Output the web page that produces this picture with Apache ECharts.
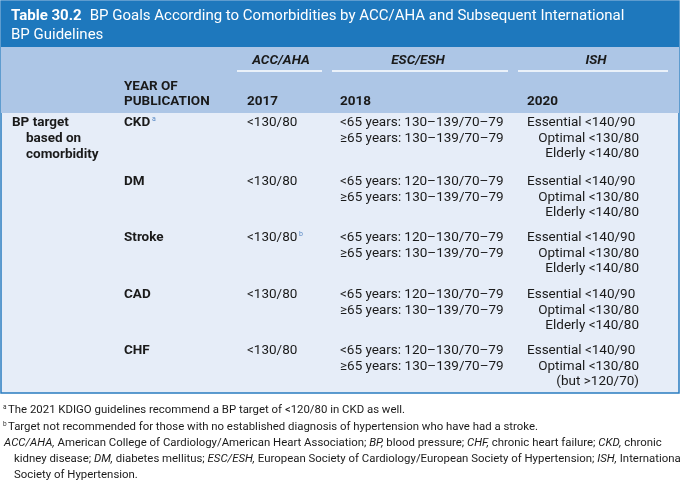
<!DOCTYPE html><html><head><meta charset="utf-8">
<script src="https://cdn.jsdelivr.net/npm/echarts@6/dist/echarts.min.js"></script>
<style>html,body{margin:0;padding:0;background:#fff}#c{width:680px;height:481px}</style></head><body><div id="c"></div>
<script>
const title = ["Table 30.2", " BP Goals According to Comorbidities by ACC/AHA and Subsequent International", "BP Guidelines"];
const guidelines = ["ACC/AHA", "ESC/ESH", "ISH"];
const years = ["2017", "2018", "2020"];
const comorbidities = ["CKD", "DM", "Stroke", "CAD", "CHF"];
const marks = ["a", "", "", "", ""];
const accAha = ["<130/80", "<130/80", "<130/80", "<130/80", "<130/80"];
const accMarks = ["", "", "b", "", ""];
const escEsh = [
  ["<65 years: 130–139/70–79", "≥65 years: 130–139/70–79"],
  ["<65 years: 120–130/70–79", "≥65 years: 130–139/70–79"],
  ["<65 years: 120–130/70–79", "≥65 years: 130–139/70–79"],
  ["<65 years: 120–130/70–79", "≥65 years: 130–139/70–79"],
  ["<65 years: 120–130/70–79", "≥65 years: 130–139/70–79"]];
const ish = [
  ["Essential <140/90", "Optimal <130/80", "Elderly <140/80"],
  ["Essential <140/90", "Optimal <130/80", "Elderly <140/80"],
  ["Essential <140/90", "Optimal <130/80", "Elderly <140/80"],
  ["Essential <140/90", "Optimal <130/80", "Elderly <140/80"],
  ["Essential <140/90", "Optimal <130/80", "(but >120/70)"]];
const footnotes = [
  "The 2021 KDIGO guidelines recommend a BP target of <120/80 in CKD as well.",
  "Target not recommended for those with no established diagnosis of hypertension who have had a stroke."];

const F = 'Roboto, "Liberation Sans", sans-serif';
const g = [];
function t(x, y, s, o = {}) {
  g.push({type: 'text', x, y, style: Object.assign({text: s, font: (o.b ? 'bold ' : '') + (o.i ? 'italic ' : '') + (o.fs || 13.5) + 'px ' + F, fill: o.c || '#1a1a1a', textAlign: o.a || 'left', textVerticalAlign: 'middle'}, o.st || {})});
}
function r(x, y, w, h, fill, stroke) { g.push({type: 'rect', shape: {x, y, width: w, height: h}, style: {fill, stroke: stroke || null, lineWidth: 1.5}}); }
function l(x1, x2, y) { g.push({type: 'line', shape: {x1, y1: y, x2, y2: y}, style: {stroke: '#fff', lineWidth: 1.5}}); }
function rich(x, y, s) {
  g.push({type: 'text', x, y, style: {text: s, fontSize: 11.4, fontFamily: F, fill: '#1a1a1a', verticalAlign: 'middle', textVerticalAlign: 'middle', rich: {i: {fontStyle: 'italic', fontSize: 11.4, fontFamily: F, fill: '#1a1a1a'}}}});
}

r(1, 1, 678, 392, '#e6edf8', '#2a7cc0');
r(1, 1, 678, 46, '#1e78bd');
r(1, 47, 678, 66, '#adc6e6');
t(11, 16, title[0], {b: 1, c: '#fff', fs: 15});
t(86, 16, title[1], {c: '#fff', fs: 15});
t(11, 35, title[2], {c: '#fff', fs: 15});
const gx = [281, 418, 596], ul = [[237, 322], [332, 508], [518, 668]];
guidelines.forEach((s, i) => { t(gx[i], 61, s, {b: 1, i: 1, a: 'center'}); l(ul[i][0], ul[i][1], 71); });
t(124, 87, 'YEAR OF', {b: 1});
t(124, 102, 'PUBLICATION', {b: 1});
const cx = [247, 340, 527];
years.forEach((s, i) => t(cx[i], 102, s, {b: 1}));
t(12, 123, 'BP target', {b: 1}); t(26, 139, 'based on', {b: 1}); t(26, 155, 'comorbidity', {b: 1});
const ry = [123, 182, 238, 295, 351], lh = 15.5;
comorbidities.forEach((s, i) => {
  t(124, ry[i], s, {b: 1});
  if (marks[i]) t(152, ry[i] - 4, marks[i], {fs: 7, c: '#5a8ac5'});
  t(247, ry[i], accAha[i]);
  if (accMarks[i]) t(299, ry[i] - 4, accMarks[i], {fs: 7, c: '#5a8ac5'});
  escEsh[i].forEach((s2, j) => t(340, ry[i] + j * lh, s2));
  ish[i].forEach((s2, j) => t(j ? 639 : 527, ry[i] + j * lh, s2, {a: j ? 'right' : 'left'}));
});
t(3, 407, 'a', {fs: 6.5, c: '#333'}); t(8, 410, footnotes[0], {fs: 11.4});
t(3, 424, 'b', {fs: 6.5, c: '#333'}); t(8, 427, footnotes[1], {fs: 11.4});
rich(4, 443, '{i|ACC/AHA,} American College of Cardiology/American Heart Association; {i|BP,} blood pressure; {i|CHF,} chronic heart failure; {i|CKD,} chronic');
rich(14, 459, 'kidney disease; {i|DM,} diabetes mellitus; {i|ESC/ESH,} European Society of Cardiology/European Society of Hypertension; {i|ISH,} International');
t(14, 475, 'Society of Hypertension.', {fs: 11.4});

echarts.init(document.getElementById('c')).setOption({animation: false, graphic: g});
</script></body></html>
